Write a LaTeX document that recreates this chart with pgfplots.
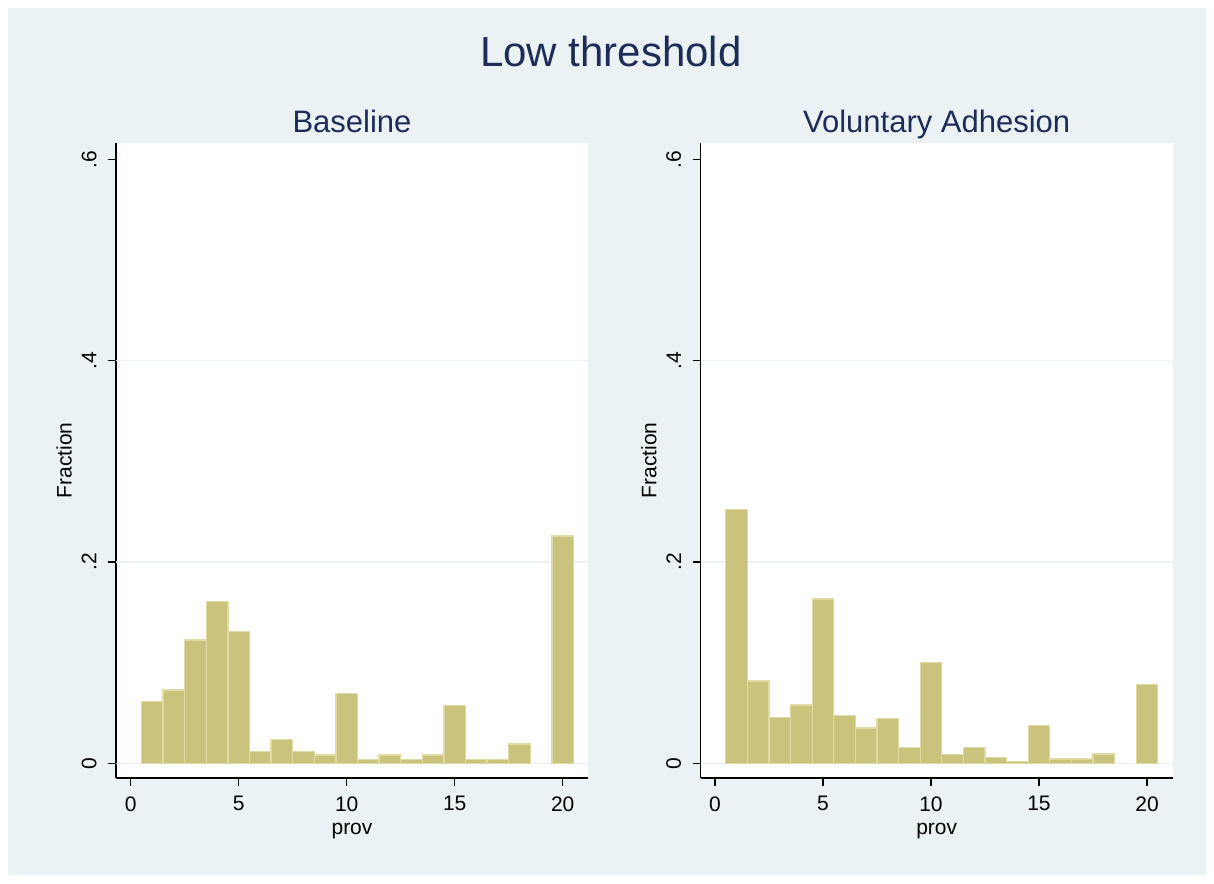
\documentclass[border=0pt]{standalone}
\usepackage{pgfplots}
\pgfplotsset{compat=1.18}
\usepackage{fontspec}
\setmainfont{Liberation Sans}
\definecolor{bgc}{RGB}{234,242,243}
\definecolor{navy}{RGB}{30,45,88}
\definecolor{barf}{RGB}{201,195,126}
\definecolor{bard}{RGB}{224,219,165}
\pgfplotsset{
  hstyle/.style={
    scale only axis, width=472pt, height=635pt,
    ymin=-0.0146, ymax=0.6162,
    axis x line*=bottom, axis y line*=left,
    axis line style={black, line width=1.3pt, -},
    axis background/.style={fill=white},
    tick align=outside, major tick length=8pt,
    every tick/.style={black, line width=1.3pt},
    xtick={0,5,10,15,20}, minor tick num=0,
    ytick={0,0.2,0.4,0.6}, yticklabels={0,.2,.4,.6},
    extra y ticks={0,0.2,0.4}, extra y tick labels={},
    extra y tick style={grid=major, major tick length=0pt, every tick/.style={draw=none}},
    grid style={bgc, line width=1.5pt},
    /pgf/number format/assume math mode=true,
    tick label style={font=\fontsize{21}{24}\selectfont, black},
    x tick label style={yshift=-7pt},
    y tick label style={rotate=90, anchor=south},
    yticklabel shift=8pt,
    xlabel={prov}, ylabel={Fraction},
    every axis x label/.style={at={(axis description cs:0.5,-0.083)}, anchor=center, font=\fontsize{21}{24}\selectfont, black},
    every axis y label/.style={at={(axis description cs:-0.110,0.5)}, anchor=center, rotate=90, font=\fontsize{21}{24}\selectfont, black},
    title style={font=\fontsize{31}{36}\selectfont, color=navy, at={(axis description cs:0.5,1)}, anchor=base, yshift=4.3pt},
    clip=false,
  },
  hbar/.style={ybar, bar width=1, bar shift=0pt, fill=barf, draw=bard, line width=1.3pt},
}
\begin{document}
\begin{tikzpicture}[x=1pt,y=1pt]
\useasboundingbox (0,0) rectangle (1214,883);
\fill[white] (0,0) rectangle (1214,883);
\fill[bgc] (8,8) rectangle (1206,875);
\node[font=\fontsize{42}{48}\selectfont, color=navy, anchor=base] at (611,816.3) {Low threshold};
\begin{axis}[hstyle, at={(116pt,105pt)}, anchor=south west, xmin=-0.68, xmax=21.17, title={Baseline}]
\addplot[hbar] coordinates {
(1,0.0612) (2,0.0728) (3,0.1225) (4,0.1606) (5,0.1308) (6,0.0116) (7,0.0238)
(8,0.0116) (9,0.0083) (10,0.0695) (11,0.0040) (12,0.0083) (13,0.0040) (14,0.0083)
(15,0.0576) (16,0.0040) (17,0.0040) (18,0.0192) (20,0.2258)};
\end{axis}
\begin{axis}[hstyle, at={(700.7pt,105pt)}, anchor=south west, xmin=-0.66, xmax=21.19, title={Voluntary Adhesion}]
\addplot[hbar] coordinates {
(1,0.2523) (2,0.0818) (3,0.0457) (4,0.0579) (5,0.1632) (6,0.0477) (7,0.0351)
(8,0.0447) (9,0.0155) (10,0.0999) (11,0.0089) (12,0.0155) (13,0.0060) (14,0.0016)
(15,0.0374) (16,0.0043) (17,0.0043) (18,0.0092) (20,0.0785)};
\end{axis}
\end{tikzpicture}
\end{document}
